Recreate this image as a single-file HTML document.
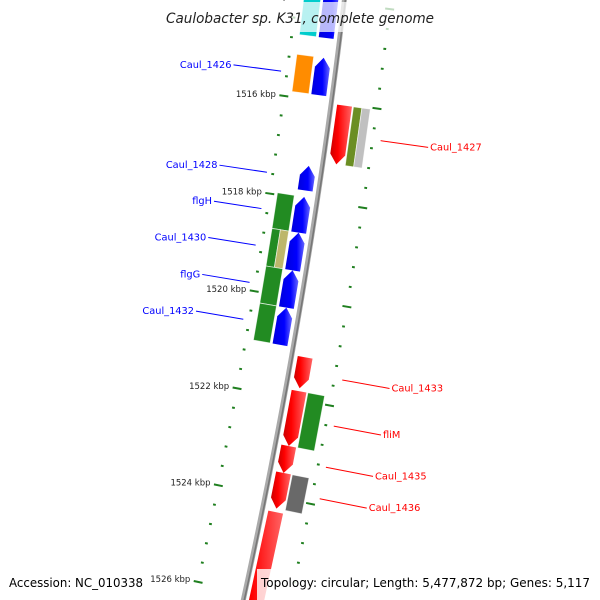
<!DOCTYPE html>
<html><head><meta charset="utf-8"><style>
html,body{margin:0;padding:0;background:#fff;overflow:hidden;width:600px;height:600px;}
svg{display:block;font-family:"DejaVu Sans","Liberation Sans",sans-serif;}
</style></head><body>
<svg id="map" width="600" height="600" viewBox="0 0 600 600" xmlns="http://www.w3.org/2000/svg" overflow="hidden">
<defs>
<clipPath id="frame"><rect x="0" y="0" width="600" height="600"/></clipPath>
<linearGradient id="g-blue" x1="0" x2="1" y1="0" y2="0"><stop offset="0" stop-color="#0000dd"/><stop offset="0.6" stop-color="#0000ff"/><stop offset="1" stop-color="#6666ff"/></linearGradient>
<linearGradient id="g-red" x1="0" x2="1" y1="0" y2="0"><stop offset="0" stop-color="#cc0000"/><stop offset="0.35" stop-color="#ff0000"/><stop offset="1" stop-color="#ff6666"/></linearGradient>
</defs>
<g id="layer" clip-path="url(#frame)"></g>
<rect x="162" y="2" width="276" height="30" fill="#fff" opacity="0.72"/>
<text x="300" y="23" text-anchor="middle" font-size="14" font-style="italic" fill="#222" textLength="268" lengthAdjust="spacingAndGlyphs">Caulobacter sp. K31, complete genome</text>
<text x="9" y="587" font-size="12" fill="#000" textLength="134" lengthAdjust="spacingAndGlyphs">Accession: NC_010338</text>
<rect x="257" y="569" width="343" height="31" fill="#fff" opacity="0.8"/>
<text x="261" y="587" font-size="12" fill="#000" textLength="329" lengthAdjust="spacingAndGlyphs">Topology: circular; Length: 5,477,872 bp; Genes: 5,117</text>
</svg>
<script>
const featStart = [1513.3, 1515.13, 1516.03, 1517.33, 1517.96, 1518.69, 1519.46, 1520.22, 1521.14, 1521.83, 1522.95, 1523.50, 1524.30];
const featEnd   = [1514.73, 1515.89, 1517.22, 1517.83, 1518.69, 1519.46, 1520.22, 1520.98, 1521.77, 1522.95, 1523.50, 1524.23, 1527.5];
const featStrand = [1, 1, -1, 1, 1, 1, 1, 1, -1, -1, -1, -1, -1];
const featLabels = ["", "Caul_1426", "Caul_1427", "Caul_1428", "flgH", "Caul_1430", "flgG", "Caul_1432", "Caul_1433", "fliM", "Caul_1435", "Caul_1436", ""];
const featCog = [["#00cccc"], ["#ff8c00"], ["#6b8e23", "#c0c0c0"], [], ["#228b22"], ["#228b22", "#bdb76b"], ["#228b22"], ["#228b22"], [], ["#228b22"], [], ["#696969"], []];
const tickMajor = [1514, 1516, 1518, 1520, 1522, 1524, 1526];
const tickLabels = ["1514 kbp", "1516 kbp", "1518 kbp", "1520 kbp", "1522 kbp", "1524 kbp", "1526 kbp"];
const tickMinorStep = 0.4;

const CX = -5862, CY = -737, R = 6250, A0 = 0.1347, AK = 0.00796;
const NS = "http://www.w3.org/2000/svg";
const layer = document.getElementById('layer');
function pt(k, off) { const a = A0 + (k - 1516) * AK; const r = R + off; return [CX + r * Math.cos(a), CY + r * Math.sin(a)]; }
function mk(tag, attrs) { const e = document.createElementNS(NS, tag); for (const k in attrs) e.setAttribute(k, attrs[k]); layer.appendChild(e); return e; }
function ps(arr) { return arr.map(p => p[0].toFixed(2) + ',' + p[1].toFixed(2)).join(' '); }

let bb = [];
for (let k = 1513.5; k <= 1526.9; k += 0.25) bb.push(pt(k, 0));
let e = mk('polyline', { points: ps(bb), fill: 'none', stroke: '#aaaaaa', 'stroke-width': 5 });


e = mk('polyline', { points: ps(bb.map(p => [p[0] + 1, p[1]])), fill: 'none', stroke: '#777777', 'stroke-width': 1.6 });



[-48, 46].forEach((ro, ri) => {
  for (let k = 1513.2; k <= 1527.6; k += tickMinorStep) {
    const kk = Math.round(k * 10) / 10;
    const major = Math.abs(kk - Math.round(kk)) < 0.01 && Math.round(kk) % 2 === 0;
    const half = major ? 4.5 : 1.4;
    const a = pt(kk, ro - half), b = pt(kk, ro + half);
    const t = mk('line', { x1: a[0], y1: a[1], x2: b[0], y2: b[1], stroke: '#1f7f1f', 'stroke-width': 2 });
    
    
  }
});
tickMajor.forEach((k, i) => {
  const p = pt(k, -56);
  const t = mk('text', { x: p[0], y: p[1] + 2, 'text-anchor': 'end', 'font-size': 8.5, fill: '#222' });
  t.textContent = tickLabels[i];
  
  
});

const HEAD = 0.2;
featStart.forEach((s, i) => {
  const en = featEnd[i], st = featStrand[i];
  const base = st === 1 ? -13.5 : 13.5, w = 7.5;
  const ri = base - w, ro = base + w;
  const cogs = featCog[i];
  if (cogs.length) {
    const cb = st === 1 ? -32 : 31, cw = 8.5;
    const n = cogs.length;
    cogs.forEach((c, j) => {
      const r1 = cb - cw + (2 * cw) * j / n, r2 = cb - cw + (2 * cw) * (j + 1) / n;
      const poly = [pt(s, r1), pt(s, r2), pt(en, r2), pt(en, r1)];
      const b = mk('polygon', { points: ps(poly), fill: c, stroke: 'rgba(255,255,255,0.7)', 'stroke-width': 0.8 });
      
      
    });
  }
  let poly;
  if (st === 1) {
    const h = Math.min(HEAD, (en - s) * 0.5);
    poly = [pt(s, base), pt(s + h, ro), pt(en, ro), pt(en, ri), pt(s + h, ri)];
  } else {
    const h = en - s > 2 ? 0 : Math.min(HEAD, (en - s) * 0.5);
    poly = h ? [pt(s, ri), pt(s, ro), pt(en - h, ro), pt(en, base), pt(en - h, ri)] : [pt(s, ri), pt(s, ro), pt(en, ro), pt(en, ri)];
  }
  const f = mk('polygon', { points: ps(poly), fill: st === 1 ? 'url(#g-blue)' : 'url(#g-red)' });
  
  
  if (featLabels[i]) {
    const m = (s + en) / 2, sg = st === 1 ? -1 : 1;
    const a = pt(m, sg * 54), b = pt(m, sg * 102);
    const ln = mk('line', { x1: a[0], y1: a[1], x2: b[0], y2: b[1], stroke: st === 1 ? '#0000ff' : '#ff0000', 'stroke-width': 1 });
    
    
    const t = mk('text', { x: b[0] + sg * 2, y: b[1] + 3, 'text-anchor': st === 1 ? 'end' : 'start', 'font-size': 9.8, fill: st === 1 ? '#0000ff' : '#ff0000' });
    t.textContent = featLabels[i];
    
    
  }
});
</script>
</body></html>
